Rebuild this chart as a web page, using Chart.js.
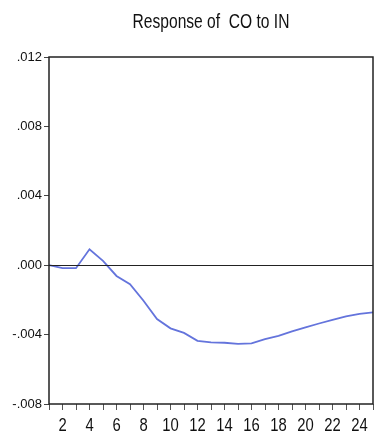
<!DOCTYPE html>
<html>
<head>
<meta charset="utf-8">
<script src="https://cdn.jsdelivr.net/npm/chart.js@4.4.0/dist/chart.umd.min.js"></script>
<style>
  html, body { margin: 0; padding: 0; background: #fff; }
  #wrap { width: 382px; height: 436px; }
</style>
</head>
<body>
<div id="wrap"><canvas id="irf"></canvas></div>
<script>
// periods and response values
const periods = [1, 2, 3, 4, 5, 6, 7, 8, 9, 10, 11, 12, 13, 14, 15, 16, 17, 18, 19, 20, 21, 22, 23, 24, 25];
const response = [0, -0.00017, -0.00017, 0.00092, 0.00025, -0.00062, -0.0011, -0.00205, -0.0031, -0.00364,
  -0.0039, -0.00436, -0.00445, -0.00447, -0.00453, -0.0045, -0.00426, -0.00407, -0.00382, -0.00359,
  -0.00336, -0.00315, -0.00295, -0.0028, -0.00272];
const yTicks = [0.012, 0.008, 0.004, 0.000, -0.004, -0.008];
const xLabels = [2, 4, 6, 8, 10, 12, 14, 16, 18, 20, 22, 24];
const chartTitle = "Response of  CO to IN";

const FONT = "'Liberation Sans', Arial, sans-serif";

// narrow text like the eviews output: squeeze horizontally
function narrowText(ctx, txt, x, y, size, squeeze) {
  ctx.save();
  ctx.font = size + "px " + FONT;
  ctx.fillStyle = "#111";
  ctx.textAlign = "center";
  ctx.textBaseline = "alphabetic";
  ctx.translate(x, y);
  ctx.scale(squeeze, 1);
  ctx.fillText(txt, 0, 0);
  ctx.restore();
}

// box around plot, zero line, title and x labels
const frame = {
  id: "frame",
  afterDatasetsDraw(chart) {
    const { ctx, chartArea: a, scales } = chart;
    ctx.save();
    ctx.strokeStyle = "#222";
    ctx.lineWidth = 1;
    const y0 = Math.round(scales.y.getPixelForValue(0)) + 0.5;
    ctx.beginPath();
    ctx.moveTo(a.left, y0);
    ctx.lineTo(a.right, y0);
    ctx.stroke();
    ctx.lineWidth = 1.5;
    ctx.strokeRect(a.left, a.top, a.right - a.left, a.bottom - a.top);
    ctx.restore();

    narrowText(ctx, chartTitle, (a.left + a.right) / 2, 28, 19.5, 0.8);
    xLabels.forEach(v => {
      narrowText(ctx, String(v), scales.x.getPixelForValue(v), 430.5, 19, 0.78);
    });
  }
};

new Chart(document.getElementById("irf"), {
  type: "line",
  data: {
    datasets: [{
      data: periods.map((p, i) => ({ x: p, y: response[i] })),
      borderColor: "#6474dc",
      borderWidth: 1.8,
      pointRadius: 0,
      tension: 0,
      fill: false
    }]
  },
  options: {
    responsive: true,
    maintainAspectRatio: false,
    animation: false,
    layout: { padding: { right: 9, left: 0, bottom: 0, top: 57 } },
    plugins: {
      legend: { display: false },
      tooltip: { enabled: false },
      title: { display: false }
    },
    scales: {
      x: {
        type: "linear",
        min: 1,
        max: 25,
        afterBuildTicks(s) {
          s.ticks = periods.map(v => ({ value: v }));
        },
        afterFit(s) { s.height = 32; },
        ticks: {
          autoSkip: false,
          maxRotation: 0,
          display: false
        },
        grid: { drawOnChartArea: false, drawTicks: true, tickLength: 6, color: "#555" },
        border: { display: false }
      },
      y: {
        min: -0.008,
        max: 0.012,
        afterBuildTicks(s) {
          s.ticks = yTicks.map(v => ({ value: v }));
        },
        afterFit(s) { s.width = 49; },
        ticks: {
          padding: 2,
          color: "#111",
          font: { family: FONT, size: 13 },
          callback: v => (v < 0 ? "-" : "") + Math.abs(v).toFixed(3).replace(/^0/, "")
        },
        grid: { drawOnChartArea: false, drawTicks: true, tickLength: 5, color: "#444" },
        border: { display: false }
      }
    }
  },
  plugins: [frame]
});
</script>
</body>
</html>
